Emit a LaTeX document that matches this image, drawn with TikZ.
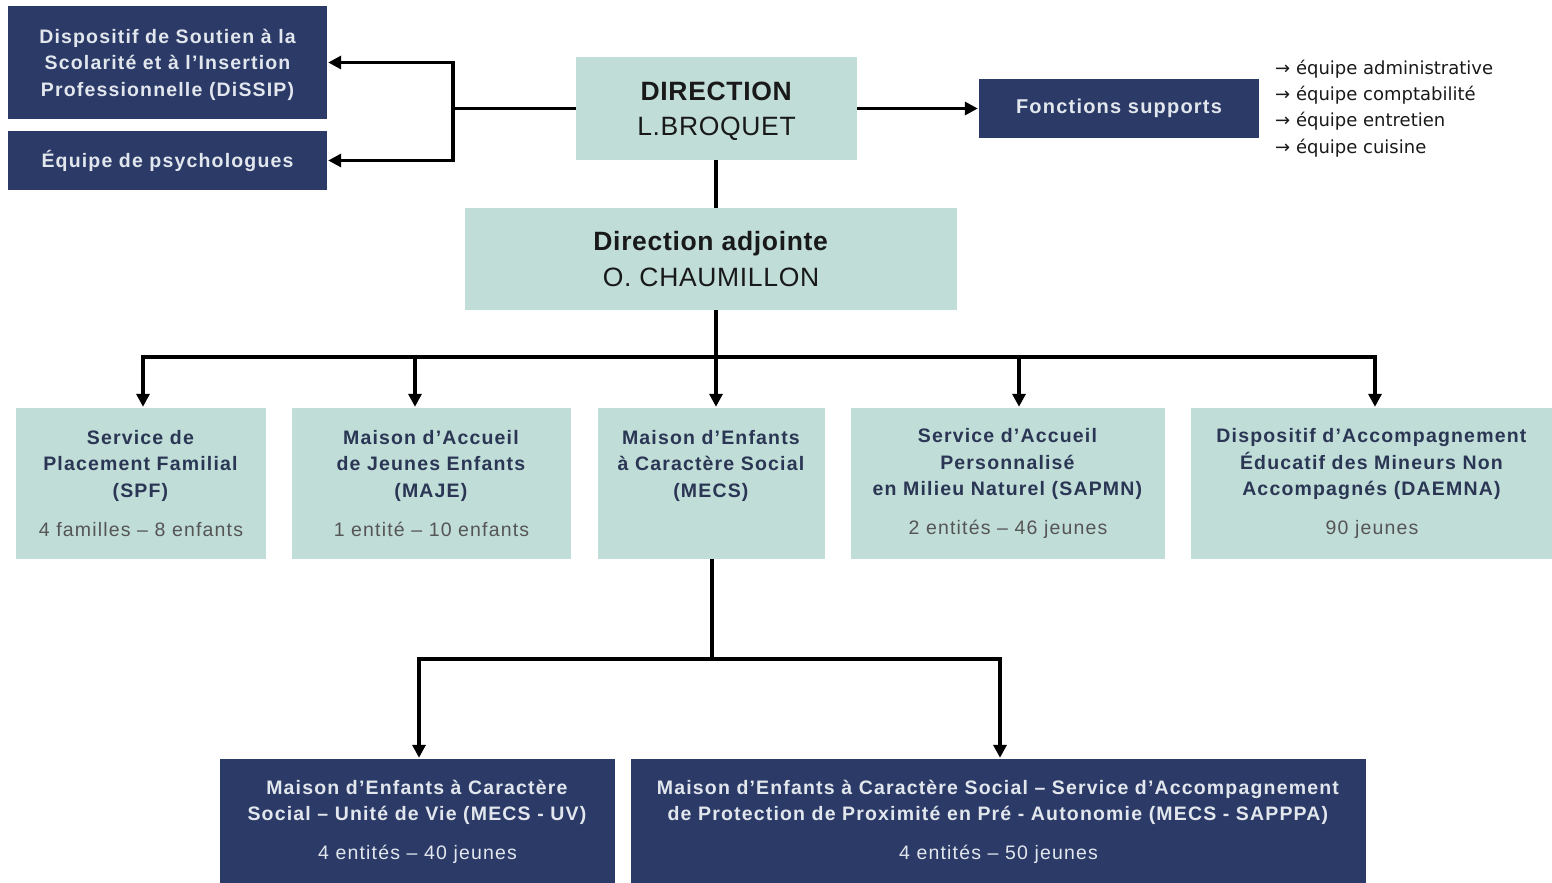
\documentclass[tikz,border=0pt]{standalone}
\usepackage{fontspec}
\setmainfont{Liberation Sans}[LetterSpace=6]
\newfontfamily\headfont{Liberation Sans}[LetterSpace=2.5]
\newfontfamily\listfont{DejaVu Sans}
\usetikzlibrary{arrows.meta,calc}
\definecolor{navy}{RGB}{43,58,103}
\definecolor{teal}{RGB}{192,221,216}
\definecolor{navytxt}{RGB}{42,54,84}
\definecolor{numgray}{RGB}{85,85,85}
\definecolor{lighttxt}{RGB}{226,231,238}
\definecolor{dirtxt}{RGB}{25,25,25}
\tikzset{
  darkbox/.style={fill=navy, text=lighttxt, inner sep=0pt, align=center, font=\fontsize{19.5}{26.5}\selectfont\bfseries},
  lightbox/.style={fill=teal, text=navytxt, inner sep=0pt, align=center, font=\fontsize{19.5}{26.5}\selectfont},
  headbox/.style={fill=teal, text=dirtxt, inner sep=0pt, align=center, font=\headfont\fontsize{26.5}{35.5}\selectfont},
  conn/.style={line width=3.6pt, draw=black},
  arr/.style={conn, -{Triangle[length=13pt,width=13pt]}, shorten >=1pt},
}
\begin{document}
\begin{tikzpicture}[x=1pt,y=-1pt]
\clip (0,0) rectangle (1552,883);
\fill[white] (0,0) rectangle (1552,883);
% top left
\node[darkbox, minimum width=319, minimum height=113,
  label={[darkbox, yshift=-2pt]center:Dispositif de Soutien à la\\Scolarité et à l’Insertion\\Professionnelle (DiSSIP)}] (dissip) at (167.5,62.5) {};
\node[darkbox, minimum width=319, minimum height=59] (psy) at (167.5,160.5)
  {Équipe de psychologues};
% direction
\node[headbox, minimum width=281, minimum height=103,
  label={[headbox, fill=none, yshift=-3pt]center:\textbf{DIRECTION}\\L.BROQUET}] (dir) at (716.5,108.5) {};
\node[darkbox, minimum width=280, minimum height=59, font=\fontsize{20}{26}\selectfont\bfseries] (fs) at (1119,108.5)
  {Fonctions supports};
\node[anchor=west, align=left, inner sep=0pt, text=dirtxt, font=\listfont\fontsize{18}{26.3}\selectfont] (list) at (1275,108.5)
  {→ équipe administrative\\→ équipe comptabilité\\→ équipe entretien\\→ équipe cuisine};
\node[headbox, minimum width=492, minimum height=102] (adj) at (711,259)
  {\textbf{Direction adjointe}\\O. CHAUMILLON};
% row
\node[lightbox, minimum width=250, minimum height=151] (spf) at (141,483.5)
  {\textbf{Service de}\\\textbf{Placement Familial}\\\textbf{(SPF)}\\[12.5pt]\textcolor{numgray}{4 familles – 8 enfants}};
\node[lightbox, minimum width=279, minimum height=151] (maje) at (431.5,483.5)
  {\textbf{Maison d’Accueil}\\\textbf{de Jeunes Enfants}\\\textbf{(MAJE)}\\[12.5pt]\textcolor{numgray}{1 entité – 10 enfants}};
\node[lightbox, minimum width=227, minimum height=151] (mecs) at (711.5,483.5)
  {\textbf{Maison d’Enfants}\\\textbf{à Caractère Social}\\\textbf{(MECS)}\\[12.5pt]\phantom{0}};
\node[lightbox, minimum width=314, minimum height=151] (sapmn) at (1008,483.5)
  {\textbf{Service d’Accueil}\\\textbf{Personnalisé}\\\textbf{en Milieu Naturel (SAPMN)}\\[12.5pt]\textcolor{numgray}{2 entités – 46 jeunes}};
\node[lightbox, minimum width=362, minimum height=151] (daemna) at (1372,483.5)
  {\textbf{Dispositif d’Accompagnement}\\\textbf{Éducatif des Mineurs Non}\\\textbf{Accompagnés (DAEMNA)}\\[12.5pt]\textcolor{numgray}{90 jeunes}};
% bottom
\node[darkbox, font=\fontsize{19.5}{26}\selectfont, minimum width=395, minimum height=126] (uv) at (417.5,822)
  {\textbf{Maison d’Enfants à Caractère}\\\textbf{Social – Unité de Vie (MECS - UV)}\\[13pt]4 entités – 40 jeunes};
\node[darkbox, font=\fontsize{19.5}{26}\selectfont, minimum width=735, minimum height=126] (sap) at (998.5,822)
  {\textbf{Maison d’Enfants à Caractère Social – Service d’Accompagnement}\\\textbf{de Protection de Proximité en Pré - Autonomie (MECS - SAPPPA)}\\[13pt]4 entités – 50 jeunes};
% connectors
\coordinate (jl) at (453,108.5);
\draw[arr] (dir.west) -- (jl) |- (dissip.east);
\draw[arr] (jl) |- (psy.east);
\draw[arr] (dir.east) -- (fs.west);
\coordinate (top) at (716,160);
\draw[conn] (dir.south -| top) -- (top |- adj.north);
\coordinate (bus) at (716,357);
\coordinate (b1) at (143,357);
\coordinate (b2) at (415,357);
\coordinate (b4) at (1019,357);
\coordinate (b5) at (1375,357);
\draw[conn] (bus |- adj.south) -- (bus);
\draw[arr] (bus) -| (b1 |- spf.north);
\draw[arr] (bus) -| (b5 |- daemna.north);
\draw[arr] (b2) -- (b2 |- maje.north);
\draw[arr] (bus) -- (bus |- mecs.north);
\draw[arr] (b4) -- (b4 |- sapmn.north);
\coordinate (m) at (712,659);
\coordinate (mu) at (419,659);
\coordinate (ms) at (1000,659);
\draw[conn] (mecs.south -| m) -- (m);
\draw[arr] (m) -- (mu) -- (mu |- uv.north);
\draw[arr] (m) -- (ms) -- (ms |- sap.north);
\end{tikzpicture}
\end{document}
